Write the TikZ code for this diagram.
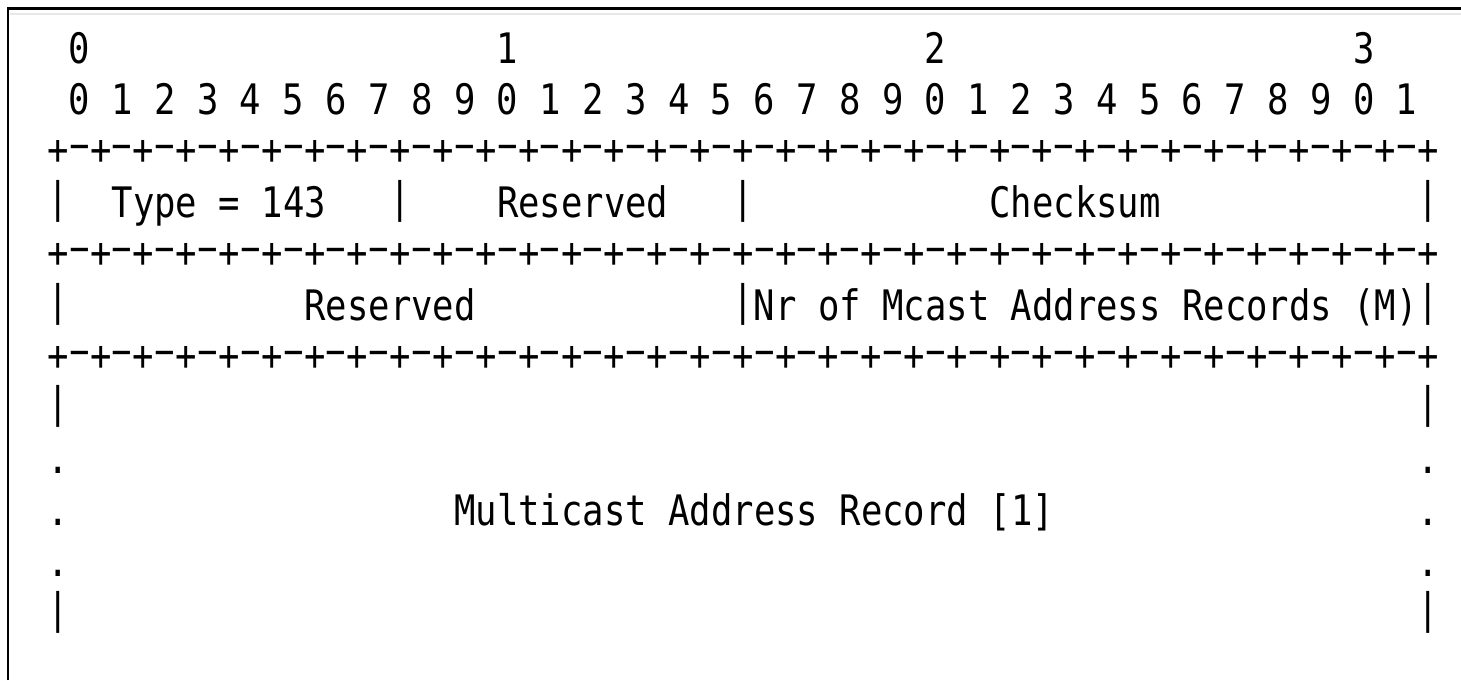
\documentclass[tikz,border=0pt]{standalone}
\usepackage{graphicx}
\usepackage{fontspec}
\newfontfamily\asciifont[FakeStretch=0.847]{DejaVu Sans Mono}
\def\cw{21.406}% one column of the ascii art
\def\xo{58}% centre of column 0
\tikzset{
  chr/.style  = { inner sep=0pt, font=\asciifont\fontsize{42pt}{50pt}\selectfont },
  cell/.style = { chr, anchor=base },
  txt/.style  = { chr, anchor=base west },
  mid/.style  = { chr, anchor=center },
  frm/.style  = { line width=2.5pt, black },
  glint/.style = { line width=2.5pt, black!9 }
}

\begin{document}
\begin{tikzpicture}[x=1pt,y=-1pt]
  \useasboundingbox (0,0) rectangle (1461,680);
  % window frame
  \coordinate (fbl) at (8,680);
  \coordinate (ftl) at (8,8.5);
  \coordinate (ftr) at (1461,8.5);
  \draw[frm] (fbl) -- (ftl) -- (ftr);
  \draw[glint] (10,14) -- (1461,14);

  % bit numbers
  \foreach \d/\c in {0/1,1/21,2/41,3/61}
    \node[cell] (dec\d) at ({\xo+\c*\cw},63.3) {\d};
  \foreach \b in {0,...,31}{
    \pgfmathtruncatemacro\dg{mod(\b,10)}
    \node[cell] (bit\b) at ({\xo+(2*\b+1)*\cw},114.7) {\dg};
  }

  % +-+-+ rules
  \foreach \r/\y in {a/152,b/255,c/358}{
    \foreach \c in {0,2,...,64}
      \node[mid] (\r p\c) at ({\xo+\c*\cw},\y) {+};
    \foreach \c in {1,3,...,63}
      \node[mid] (\r m\c) at ({\xo+\c*\cw},\y) {\scalebox{1.9}[1]{-}};
  }

  % first word
  \foreach \c in {0,16,32,64}
    \node[mid] (wa\c) at ({\xo+\c*\cw},201) {|};
  \node[txt] (type) at ({\xo+2.5*\cw},217.5) {Type = 143};
  \node[txt] (res1) at ({\xo+20.5*\cw},217.5) {Reserved};
  \node[txt] (csum) at ({\xo+43.5*\cw},217.5) {Checksum};

  % second word
  \foreach \c in {0,32,64}
    \node[mid] (wb\c) at ({\xo+\c*\cw},304) {|};
  \node[txt] (res2) at ({\xo+11.5*\cw},320.3) {Reserved};
  \node[txt] (nrec) at ({\xo+32.5*\cw},320.3) {Nr of Mcast Address Records (M)};

  % address record
  \foreach \s/\c in {l/0,r/64}{
    \node[mid] (rt\s) at ({\xo+\c*\cw},406) {|};
    \node[cell] (ra\s) at ({\xo+\c*\cw},473.5) {.};
    \node[cell] (rb\s) at ({\xo+\c*\cw},525) {.};
    \node[cell] (rc\s) at ({\xo+\c*\cw},576.5) {.};
    \node[mid] (rd\s) at ({\xo+\c*\cw},612.5) {|};
  }
  \node[txt] (mrec) at ({\xo+18.5*\cw},525) {Multicast Address Record [1]};
\end{tikzpicture}
\end{document}
